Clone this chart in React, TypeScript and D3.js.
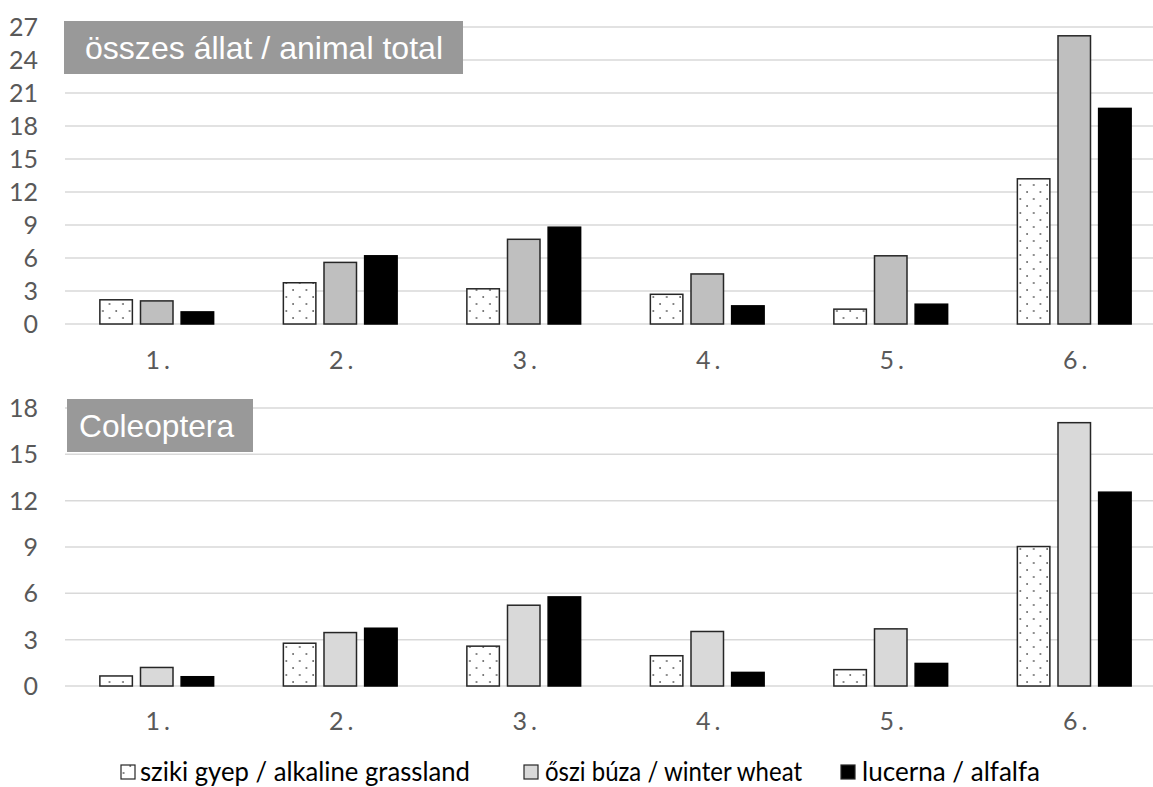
import React from "react";
import * as d3 from "d3";

const categories = ["1.", "2.", "3.", "4.", "5.", "6."];
const seriesNames = [
  "sziki gyep / alkaline grassland",
  "őszi búza / winter wheat",
  "lucerna / alfalfa",
];
const totalGrassland = [2.2, 3.75, 3.2, 2.7, 1.35, 13.2];
const totalWheat = [2.1, 5.6, 7.7, 4.55, 6.2, 26.2];
const totalAlfalfa = [1.1, 6.2, 8.8, 1.65, 1.8, 19.6];
const coleoGrassland = [0.65, 2.77, 2.58, 1.96, 1.06, 9.03];
const coleoWheat = [1.2, 3.46, 5.23, 3.53, 3.7, 17.05];
const coleoAlfalfa = [0.6, 3.74, 5.77, 0.88, 1.46, 12.55];
const totalTicks = [0, 3, 6, 9, 12, 15, 18, 21, 24, 27];
const coleoTicks = [0, 3, 6, 9, 12, 15, 18];

const W = 1153;
const H = 787;
const plotLeft = 65;
const plotRight = 1166;

const x0 = d3.scaleBand<string>().domain(categories).range([plotLeft, plotRight]).paddingInner(0.38).paddingOuter(0.19);
const x1 = d3.scaleBand<number>().domain([0, 1, 2]).range([0, x0.bandwidth()]).paddingInner(0.2);

const tickFont = "Lato, 'Open Sans', sans-serif";

function Panel({ series, ticks, yTop, yBottom, max, fills, title, labelY }: any) {
  const y = d3.scaleLinear().domain([0, max]).range([yBottom, yTop]);
  return (
    <g>
      {ticks.map((t: number) => (
        <g key={t}>
          <line x1={plotLeft} x2={W} y1={y(t)} y2={y(t)} stroke="#d9d9d9" strokeWidth={1.5} />
          <text x={38} y={y(t)} dy="0.36em" textAnchor="end" fontFamily={tickFont} fontSize={25} fill="#595959">
            {t}
          </text>
        </g>
      ))}
      {categories.map((c, ci) => (
        <g key={c} transform={`translate(${x0(c)},0)`}>
          {series.map((s: number[], si: number) => (
            <rect
              key={si}
              x={x1(si)}
              y={y(s[ci])}
              width={x1.bandwidth()}
              height={y(0) - y(s[ci])}
              fill={fills[si]}
              stroke={si === 2 ? "#000" : "#262626"}
              strokeWidth={1.5}
            />
          ))}
          <text x={x0.bandwidth() / 2 + 3} y={labelY} dy="0.36em" textAnchor="middle" fontFamily={tickFont} fontSize={25} fill="#595959" letterSpacing={4}>
            {c}
          </text>
        </g>
      ))}
      <rect x={title.x} y={title.y} width={title.w} height={53} fill="#999999" />
      <text
        x={title.tx}
        y={title.y + 26}
        dy="0.36em"
        fontFamily="'Liberation Sans', Arial, sans-serif"
        fontSize={32}
        fill="#ffffff"
        textLength={title.tw}
        lengthAdjust="spacingAndGlyphs"
      >
        {title.text}
      </text>
    </g>
  );
}

export default function App() {
  const legendItems = [
    { mx: 121, tx: 140, tw: 330, fill: "url(#dots)" },
    { mx: 524, tx: 545, tw: 257, fill: "#d9d9d9" },
    { mx: 841, tx: 862, tw: 178, fill: "#000" },
  ];
  return (
    <svg width={W} height={H} style={{ position: "absolute", left: 0, top: 0, background: "#fff" }}>
      <defs>
        <pattern id="dots" patternUnits="userSpaceOnUse" width={13.4} height={14}>
          <rect width={13.4} height={14} fill="#ffffff" />
          <circle cx={3} cy={3} r={0.9} fill="#555" />
          <circle cx={9.7} cy={10} r={0.9} fill="#555" />
        </pattern>
      </defs>
      <rect width={W} height={H} fill="#fff" />
      <Panel
        series={[totalGrassland, totalWheat, totalAlfalfa]}
        ticks={totalTicks}
        yTop={27}
        yBottom={324}
        max={27}
        fills={["url(#dots)", "#bfbfbf", "#000"]}
        title={{ x: 64, y: 21, w: 399, tx: 85, tw: 358, text: "összes állat / animal total" }}
        labelY={360}
      />
      <Panel
        series={[coleoGrassland, coleoWheat, coleoAlfalfa]}
        ticks={coleoTicks}
        yTop={408}
        yBottom={686}
        max={18}
        fills={["url(#dots)", "#d9d9d9", "#000"]}
        title={{ x: 67, y: 399, w: 186, tx: 79, tw: 155, text: "Coleoptera" }}
        labelY={721}
      />
      {legendItems.map((l, i) => (
        <g key={i}>
          <rect x={l.mx} y={765} width={14} height={14} fill={l.fill} stroke="#262626" strokeWidth={1.2} />
          <text x={l.tx} y={772} dy="0.36em" fontFamily={tickFont} fontSize={26} fill="#000" textLength={l.tw} lengthAdjust="spacingAndGlyphs">
            {seriesNames[i]}
          </text>
        </g>
      ))}
    </svg>
  );
}
